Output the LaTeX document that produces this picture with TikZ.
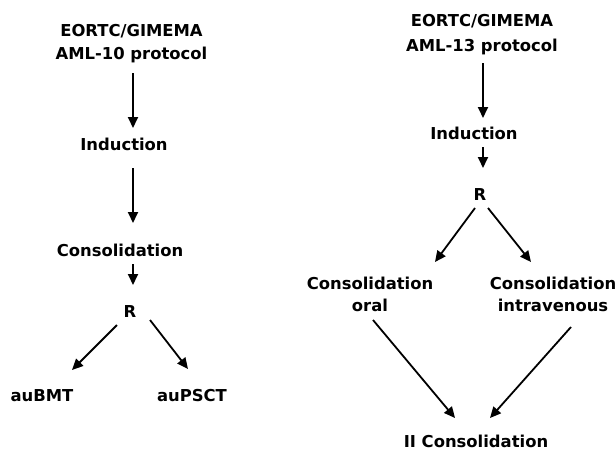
\documentclass[tikz,border=0pt]{standalone}
\usepackage{fontspec}
\setmainfont{DejaVu Sans}
\usetikzlibrary{arrows.meta}
\tikzset{
  lbl/.style={inner sep=0pt, outer sep=0pt, align=center, font=\fontsize{16.4}{23}\selectfont\bfseries},
  one/.style={lbl, text height=12pt, text depth=0pt, anchor=base},
  two/.style={lbl, anchor=north},
  arr/.style={line width=1.8pt, -{Triangle[length=11pt,width=10pt]}}
}
\begin{document}
\begin{tikzpicture}[x=1pt,y=-1pt]
\useasboundingbox (0,0) rectangle (616,450);
% left column
\node[two] (t1) at (131.5,24.5) {EORTC/GIMEMA\\AML-10 protocol};
\node[one] (ind1) at (124,150) {Induction};
\node[one] (cons1) at (120,256) {Consolidation};
\node[one] (r1) at (130,317) {R};
\node[one] (bmt) at (42,401) {auBMT};
\node[one] (psct) at (192,401) {auPSCT};
\draw[arr] ([xshift=1.5pt,yshift=-48.5pt]t1.north) -- ([xshift=9pt,yshift=10pt]ind1.north);
\draw[arr] ([xshift=9pt,yshift=-18pt]ind1.south) -- ([xshift=13pt,yshift=21pt]cons1.north);
\draw[arr] ([xshift=13pt,yshift=-8pt]cons1.south) -- ([xshift=3pt,yshift=20pt]r1.north);
\draw[arr] ([xshift=-13pt,yshift=-8pt]r1.south) -- ([xshift=30pt,yshift=19pt]bmt.north);
\draw[arr] ([xshift=20pt,yshift=-3pt]r1.south) -- ([xshift=-4pt,yshift=20pt]psct.north);
% right column
\node[two, font=\fontsize{16.4}{25}\selectfont\bfseries] (t2) at (482,14.5) {EORTC/GIMEMA\\AML-13 protocol};
\node[one] (ind2) at (474,139) {Induction};
\node[one] (r2) at (480,200) {R};
\node[two, font=\fontsize{16.4}{22}\selectfont\bfseries] (co) at (370,277.5) {Consolidation\\oral};
\node[two, font=\fontsize{16.4}{22}\selectfont\bfseries] (ci) at (553,277.5) {Consolidation\\intravenous};
\node[one] (ii) at (476,447) {II Consolidation};
\draw[arr] ([xshift=1pt,yshift=-48.5pt]t2.north) -- ([xshift=9pt,yshift=9pt]ind2.north);
\draw[arr] ([xshift=9pt,yshift=-8pt]ind2.south) -- ([xshift=3pt,yshift=20pt]r2.north);
\draw[arr] ([xshift=-5pt,yshift=-8pt]r2.south) -- ([xshift=65pt,yshift=15.5pt]co.north);
\draw[arr] ([xshift=8pt,yshift=-8pt]r2.south) -- ([xshift=-22pt,yshift=15.5pt]ci.north);
\draw[arr] ([xshift=3pt,yshift=-42.5pt]co.north) -- ([xshift=-21pt,yshift=17pt]ii.north);
\draw[arr] ([xshift=18pt,yshift=-49.5pt]ci.north) -- ([xshift=14pt,yshift=17pt]ii.north);
\end{tikzpicture}
\end{document}
